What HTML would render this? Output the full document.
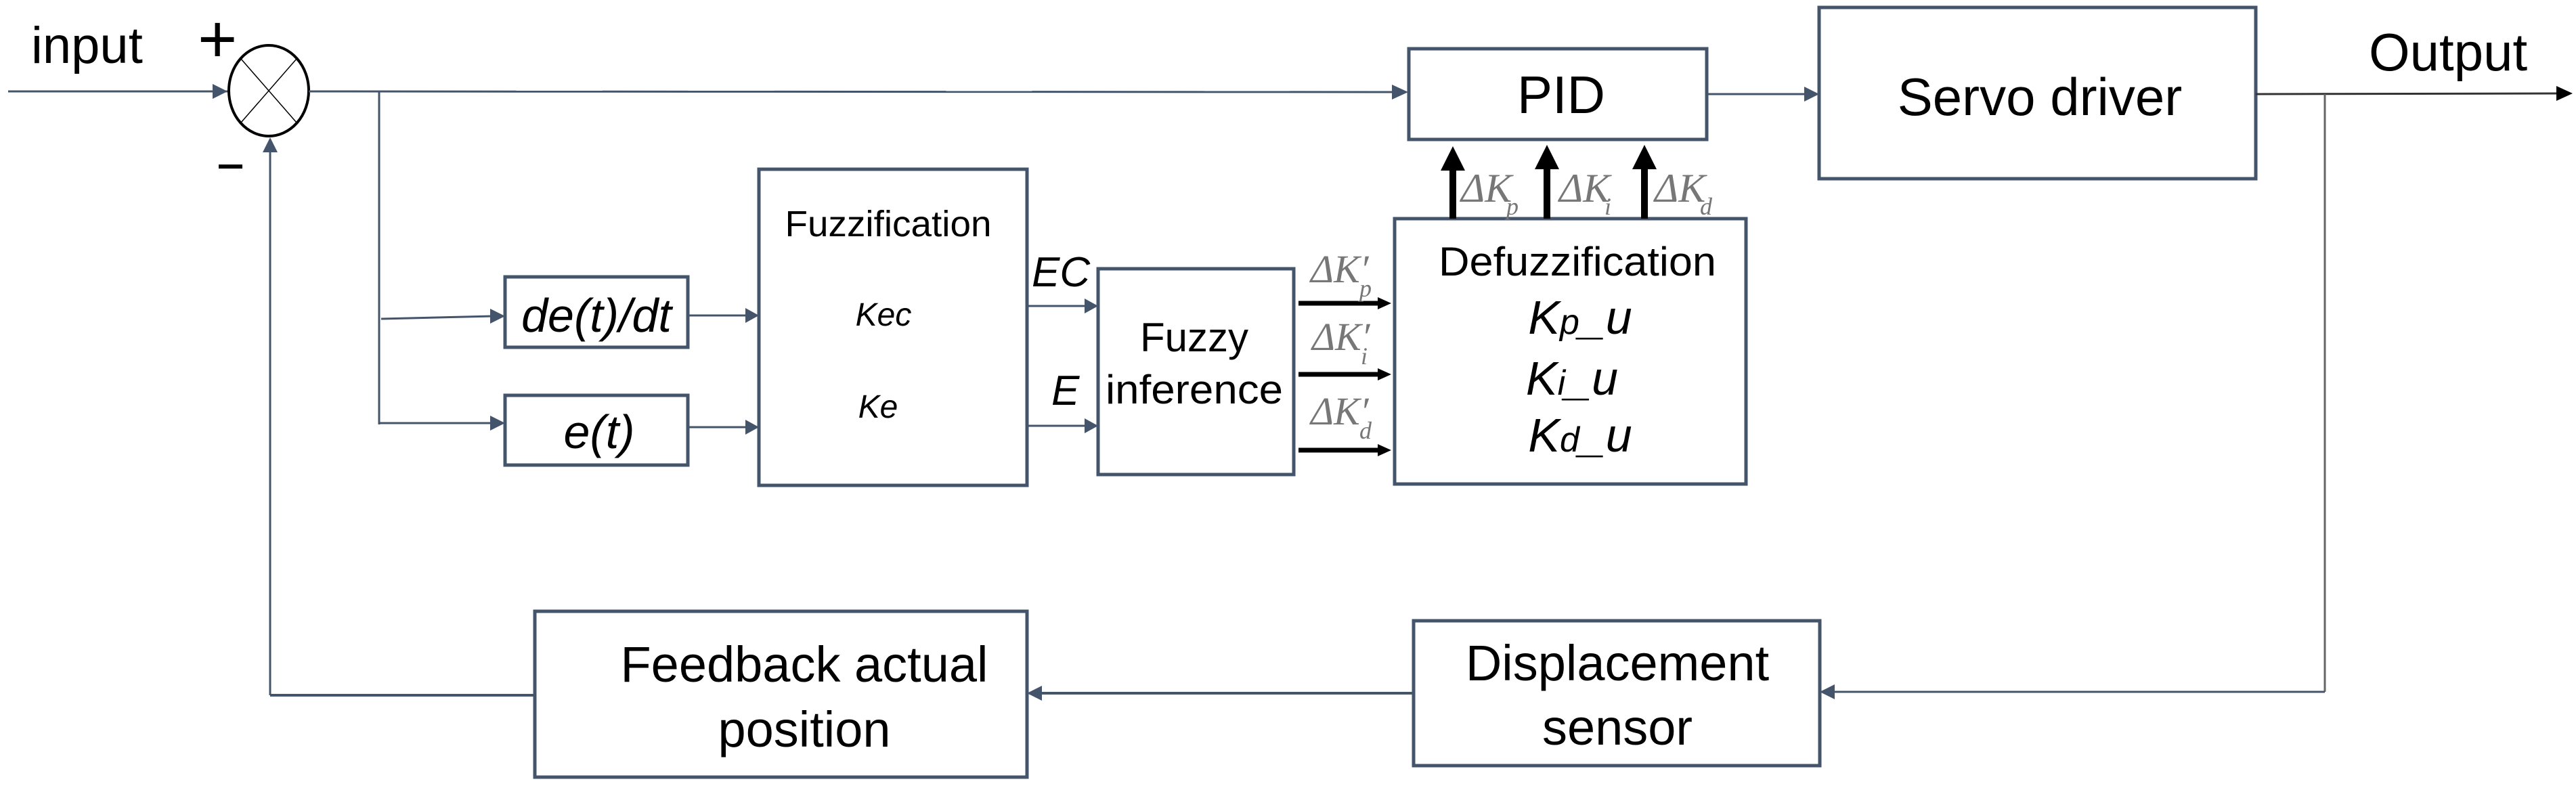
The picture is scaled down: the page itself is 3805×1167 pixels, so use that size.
<!DOCTYPE html>
<html><head><meta charset="utf-8"><style>
html,body{margin:0;padding:0;background:#fff;}
svg{display:block;}
text{font-family:"Liberation Sans",sans-serif;fill:#000;}
.g{font-family:"Liberation Serif",serif;font-style:italic;fill:#777;}
</style></head><body>
<svg width="3805" height="1167" viewBox="0 0 3805 1167" xmlns="http://www.w3.org/2000/svg">
<g stroke="#44546A" fill="none">
<g stroke-width="5">
<rect x="746" y="409" width="270" height="104"/>
<rect x="746" y="584" width="270" height="103"/>
<rect x="1121" y="250" width="396" height="467"/>
<rect x="1622" y="397" width="289" height="304"/>
<rect x="2060" y="323" width="519" height="392"/>
<rect x="2081" y="72" width="440" height="134"/>
<rect x="2687" y="11" width="645" height="253"/>
<rect x="790" y="903" width="727" height="245"/>
<rect x="2088" y="917" width="600" height="214"/>
</g>
<ellipse cx="397" cy="134" rx="59" ry="67" stroke="#000" stroke-width="4"/>
<line x1="356" y1="87" x2="438" y2="181" stroke="#000" stroke-width="1.5"/>
<line x1="438" y1="87" x2="356" y2="181" stroke="#000" stroke-width="1.5"/>
<g stroke-width="3">
<line x1="12" y1="135" x2="336" y2="135"/>
<path d="M336,135 l-22,-11 v22 z" fill="#44546A" stroke="none"/>
<line x1="456" y1="135" x2="2060" y2="136"/>
<path d="M2080,136 l-24,-11 v22 z" fill="#44546A" stroke="none"/>
<line x1="560" y1="135" x2="560" y2="627"/>
<line x1="563" y1="471" x2="728" y2="467"/>
<path d="M746,467 l-22,-11 v22 z" fill="#44546A" stroke="none"/>
<line x1="560" y1="625" x2="728" y2="625"/>
<path d="M746,625 l-22,-11 v22 z" fill="#44546A" stroke="none"/>
<line x1="1016" y1="466" x2="1103" y2="466"/>
<path d="M1121,466 l-20,-11 v22 z" fill="#44546A" stroke="none"/>
<line x1="1016" y1="631" x2="1103" y2="631"/>
<path d="M1121,631 l-20,-11 v22 z" fill="#44546A" stroke="none"/>
<line x1="1517" y1="452" x2="1604" y2="452"/>
<path d="M1622,452 l-20,-11 v22 z" fill="#44546A" stroke="none"/>
<line x1="1517" y1="629" x2="1604" y2="629"/>
<path d="M1622,629 l-20,-11 v22 z" fill="#44546A" stroke="none"/>
<line x1="2521" y1="139" x2="2667" y2="139"/>
<path d="M2687,139 l-22,-11 v22 z" fill="#44546A" stroke="none"/>
<line x1="3332" y1="139" x2="3780" y2="138" stroke="#333"/>
<path d="M3800,138 l-24,-11 v22 z" fill="#000" stroke="none"/>
<line x1="3434" y1="139" x2="3434" y2="1022" stroke="#666"/>
<line x1="3434" y1="1022" x2="2708" y2="1022"/>
<path d="M2688,1022 l22,-11 v22 z" fill="#44546A" stroke="none"/>
<line x1="2088" y1="1024" x2="1537" y2="1024" stroke-width="4"/>
<path d="M1517,1024 l22,-11 v22 z" fill="#44546A" stroke="none"/>
<line x1="790" y1="1027" x2="399" y2="1027" stroke-width="4"/>
<line x1="399" y1="1027" x2="399" y2="225"/>
<path d="M399,203 l-11,22 h22 z" fill="#44546A" stroke="none"/>
</g>
</g>
<g stroke="#000" stroke-width="7">
<line x1="1918" y1="448" x2="2040" y2="448"/>
<line x1="1918" y1="553" x2="2040" y2="553"/>
<line x1="1918" y1="665" x2="2040" y2="665"/>
</g>
<path d="M2055,448 l-20,-9 v18 z M2055,553 l-20,-9 v18 z M2055,665 l-20,-9 v18 z" fill="#000"/>
<g stroke="#000" stroke-width="10">
<line x1="2146" y1="323" x2="2146" y2="245"/>
<line x1="2285" y1="323" x2="2285" y2="245"/>
<line x1="2429" y1="323" x2="2429" y2="245"/>
</g>
<path d="M2146,216 l-18,36 h36 z M2285,214 l-18,36 h36 z M2429,214 l-18,36 h36 z" fill="#000"/>
<text x="46" y="93" font-size="76">input</text>
<text x="292" y="92" font-size="100">+</text>
<rect x="323" y="243" width="35" height="6" fill="#000"/>
<text x="881" y="490" font-size="70" font-style="italic" text-anchor="middle">de(t)/dt</text>
<text x="885" y="662" font-size="70" font-style="italic" text-anchor="middle">e(t)</text>
<text x="1312" y="349" font-size="54" text-anchor="middle" textLength="305" lengthAdjust="spacingAndGlyphs">Fuzzification</text>
<text x="1305" y="481" font-size="48" font-style="italic" text-anchor="middle">Kec</text>
<text x="1297" y="617" font-size="48" font-style="italic" text-anchor="middle">Ke</text>
<text x="1524" y="423" font-size="62" font-style="italic">EC</text>
<text x="1553" y="598" font-size="62" font-style="italic">E</text>
<text x="1764" y="519" font-size="60" text-anchor="middle">Fuzzy</text>
<text x="1764" y="596" font-size="60" text-anchor="middle" textLength="262" lengthAdjust="spacingAndGlyphs">inference</text>
<text x="2306" y="167" font-size="78" text-anchor="middle">PID</text>
<text x="3013" y="170" font-size="78" text-anchor="middle">Servo driver</text>
<text x="3499" y="104" font-size="78">Output</text>
<text x="2330" y="407" font-size="60" text-anchor="middle" textLength="410" lengthAdjust="spacingAndGlyphs">Defuzzification</text>
<text x="2334" y="493" font-size="70" font-style="italic" text-anchor="middle">K<tspan font-size="52">p</tspan>_u</text>
<text x="2322" y="583" font-size="70" font-style="italic" text-anchor="middle">K<tspan font-size="52">i</tspan>_u</text>
<text x="2334" y="667" font-size="70" font-style="italic" text-anchor="middle">K<tspan font-size="52">d</tspan>_u</text>
<text x="1188" y="1007" font-size="74" text-anchor="middle">Feedback actual</text>
<text x="1188" y="1103" font-size="74" text-anchor="middle">position</text>
<text x="2389" y="1005" font-size="74" text-anchor="middle">Displacement</text>
<text x="2389" y="1100" font-size="74" text-anchor="middle">sensor</text>
<text class="g" x="1936" y="417" font-size="58">ΔK′</text><text class="g" x="2008" y="438" font-size="36">p</text>
<text class="g" x="1938" y="517" font-size="58">ΔK′</text><text class="g" x="2010" y="538" font-size="36">i</text>
<text class="g" x="1936" y="627" font-size="58">ΔK′</text><text class="g" x="2008" y="648" font-size="36">d</text>
<text class="g" x="2158" y="298" font-size="60">ΔK</text><text class="g" x="2225" y="317" font-size="36">p</text>
<text class="g" x="2303" y="298" font-size="60">ΔK</text><text class="g" x="2370" y="317" font-size="36">i</text>
<text class="g" x="2444" y="298" font-size="60">ΔK</text><text class="g" x="2511" y="317" font-size="36">d</text>
</svg>
</body></html>
